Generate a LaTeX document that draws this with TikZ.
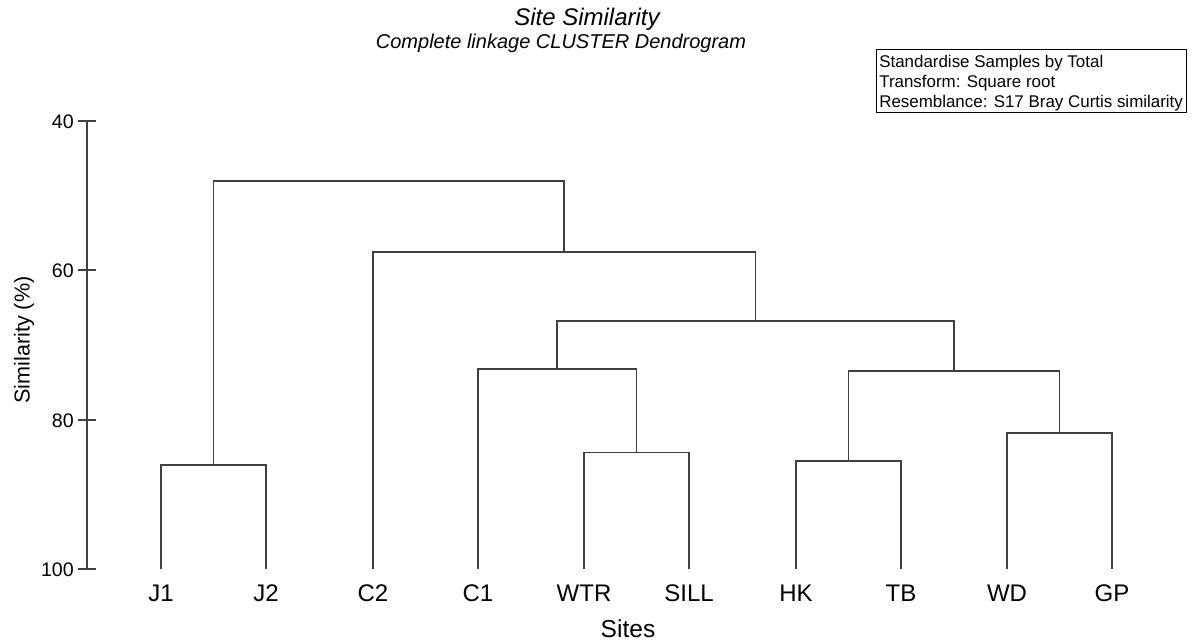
\documentclass[tikz,border=0pt]{standalone}
\usepackage{fontspec}
\setmainfont{Liberation Sans}
\begin{document}
\begin{tikzpicture}[x=0.75pt,y=-0.75pt,
  dline/.style={draw=black!75,line width=1pt},
  axline/.style={draw=black!75,line width=1pt},
  leaflabel/.style={anchor=base,inner sep=0pt,font=\fontsize{18}{20}\selectfont},
  ticklabel/.style={anchor=base east,inner sep=0pt,font=\fontsize{14.7}{16}\selectfont},
  legendtext/.style={anchor=base west,inner sep=0pt,font=\fontsize{12.7}{15}\selectfont}]
\useasboundingbox (0,0) rectangle (1194,640);
\fill[white] (0,0) rectangle (1194,640);

% titles
\node[anchor=base,inner sep=0pt,font=\fontsize{18}{20}\selectfont\itshape] (title) at (587,25) {Site Similarity};
\node[anchor=base,inner sep=0pt,font=\fontsize{15}{17}\selectfont\itshape] (subtitle) at (561,48) {Complete linkage CLUSTER Dendrogram};

% legend box
\draw[black,line width=0.75pt] (876,49) rectangle (1186,112);
\node[legendtext] (lg1) at (879,67) {Standardise Samples by Total};
\node[legendtext] (lg2) at (879,87) {Transform: Square root};
\node[legendtext] (lg3) at (879,107) {Resemblance: S17 Bray Curtis similarity};

% y axis
\coordinate (axtop) at (87,121);
\coordinate (axbot) at (87,569);
\draw[axline] (axtop) -- (axbot);
\foreach \v/\y in {40/121,60/270,80/420,100/569}{
  \draw[axline] (78,\y) -- (96,\y);
  \node[ticklabel] at (74,\y+7) {\v};
}
\node[rotate=90,inner sep=0pt,font=\fontsize{16.2}{18}\selectfont] (ylab) at (24,340) {Similarity (\%)};

% leaves
\foreach \n/\x in {J1/161,J2/266,C2/373,C1/478,WTR/584,SILL/689,HK/796,TB/901,WD/1007,GP/1112}{
  \coordinate (\n) at (\x,569);
  \node[leaflabel] (lab\n) at (\x,601) {\n};
}
\node[anchor=base,inner sep=0pt,font=\fontsize{18.4}{20}\selectfont] (xlab) at (628,637) {Sites};

% merge points
\coordinate (mJ) at (213.5,465);
\coordinate (mWS) at (636.5,452.5);
\coordinate (mHT) at (848.5,461);
\coordinate (mWG) at (1059.5,433);
\coordinate (mC1) at (557,369);
\coordinate (mHW) at (954,371);
\coordinate (mMid) at (755.5,321);
\coordinate (mC2) at (564,252);
\coordinate (mTop) at (389,181);

\draw[dline] (J1) |- (mJ) -| (J2);
\draw[dline] (WTR) |- (mWS) -| (SILL);
\draw[dline] (HK) |- (mHT) -| (TB);
\draw[dline] (WD) |- (mWG) -| (GP);
\draw[dline] (C1) |- (mC1) -| (mWS);
\draw[dline] (mHT) |- (mHW) -| (mWG);
\draw[dline] (mC1) |- (mMid) -| (mHW);
\draw[dline] (C2) |- (mC2) -| (mMid);
\draw[dline] (mJ) |- (mTop) -| (mC2);
\end{tikzpicture}
\end{document}
